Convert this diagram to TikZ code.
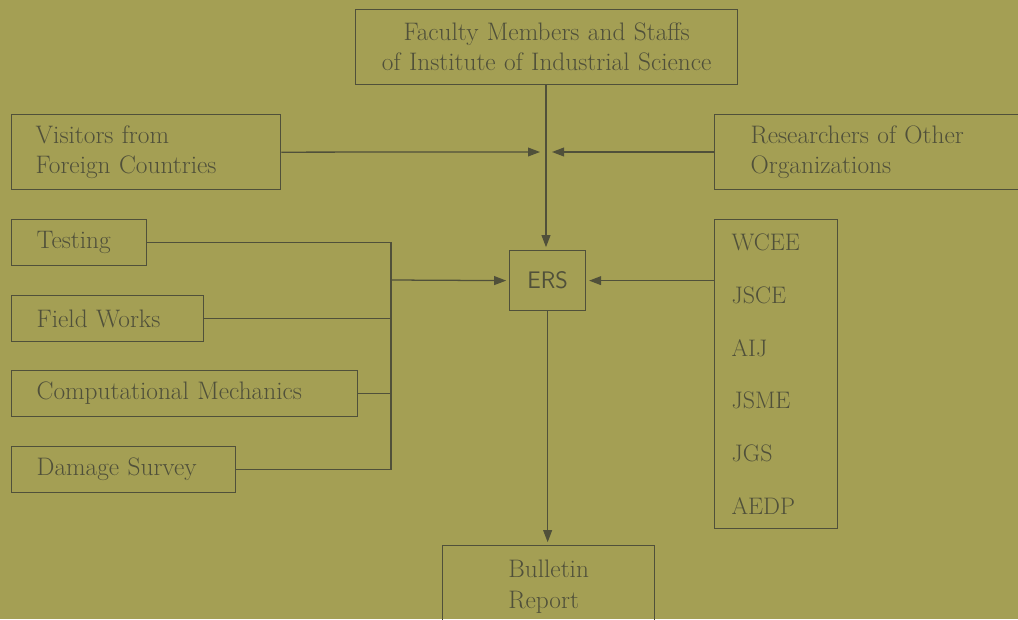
\documentclass[tikz,border=0pt]{standalone}
\usepackage{tikz}
\usetikzlibrary{arrows.meta}
\definecolor{paper}{RGB}{164,159,84}
\definecolor{ink}{RGB}{80,80,58}
\newcommand\boxfont{\fontsize{18}{21.5}\selectfont\setlength{\spaceskip}{0.45em}}
\tikzset{
	box/.style={draw=ink, line width=0.9pt, text=ink, anchor=north west, inner ysep=0pt, align=left, font=\boxfont},
	feed/.style={-{Triangle[length=3mm,width=2.2mm]}, shorten >=2pt},
}

\begin{document}
\begin{tikzpicture}[x=0.025cm, y=-0.025cm, line width=0.9pt, draw=ink]
			%%%%% START %%%%%
			
			\path[use as bounding box, fill=paper] (0, 0) rectangle (1018, 619);
			
			\node[box, align=center, text width=8.95cm, inner xsep=0.3cm, minimum height=1.875cm] (faculty) at (355, 9) {Faculty Members and Staffs\\of Institute of Industrial Science};
			\node[box, text width=5.525cm, inner xsep=0.6cm, minimum height=1.875cm] (visitors) at (11, 114) {Visitors from\\Foreign Countries};
			\node[box, text width=5.975cm, inner xsep=0.9cm, minimum height=1.875cm] (others) at (714, 114) {Researchers of Other\\Organizations};
			
			\node[box, text width=2.125cm, inner xsep=0.625cm, minimum height=1.14cm] (testing) at (11, 219) {Testing};
			\node[box, text width=3.55cm, inner xsep=0.625cm, minimum height=1.14cm] (field) at (11, 295) {Field Works};
			\node[box, text width=7.4cm, inner xsep=0.625cm, minimum height=1.14cm] (comp) at (11, 370) {Computational Mechanics};
			\node[box, text width=4.35cm, inner xsep=0.625cm, minimum height=1.14cm] (damage) at (11, 446) {Damage Survey};
			
			\node[box, align=center, minimum width=1.9cm, minimum height=1.5cm, font=\sffamily\fontsize{17}{21.5}\selectfont] (ers) at (509, 250) {ERS};
			
			\node[box, text width=2.225cm, inner xsep=0.425cm, minimum height=7.725cm, font=\fontsize{17}{37.6}\selectfont] (soc) at (714, 219) {WCEE\\JSCE\\AIJ\\JSME\\JGS\\AEDP};
			
			\node[box, minimum width=5.3cm, minimum height=2.05cm] (bulletin) at (442, 545) {Bulletin\\Report};
			
			% joins
			\coordinate (meet) at (546, 152);
			\coordinate (bus) at (391, 280);
			
			\draw[feed] (faculty.south -| meet) -- (ers.north -| meet);
			\draw[-{Triangle[length=3mm,width=2.2mm]}, shorten >=0.15cm] (visitors.east) -- (meet);
			\draw[-{Triangle[length=3mm,width=2.2mm]}, shorten >=0.15cm] (others.west |- meet) -- (meet);
			
			\draw (testing.east) -- (testing.east -| bus) -- (damage.east -| bus) -- (damage.east);
			\draw (field.east) -- (field.east -| bus);
			\draw (comp.east) -- (comp.east -| bus);
			\draw[feed] (bus) -- (ers.west);
			
			\draw[feed] (soc.west |- ers.east) -- (ers.east);
			\draw[feed] (ers.south) -- (bulletin.north -| ers.south);
			
			%%%%% END %%%%%
		\end{tikzpicture}
\end{document}
